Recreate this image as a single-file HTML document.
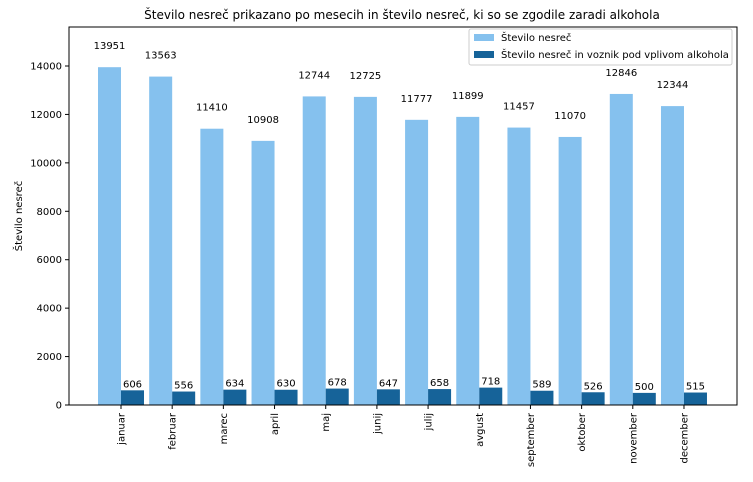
<!DOCTYPE html>
<html><head><meta charset="utf-8"><style>
body{margin:0;background:#fff;font-family:"Liberation Sans","DejaVu Sans",sans-serif}
svg text{font-family:"DejaVu Sans","Liberation Sans",sans-serif}
</style></head><body>
<svg id="c" width="753" height="477" xmlns="http://www.w3.org/2000/svg"></svg>
<script>
const categories=["januar","februar","marec","april","maj","junij","julij","avgust","september","oktober","november","december"];
const totalValues=[13951,13563,11410,10908,12744,12725,11777,11899,11457,11070,12846,12344];
const alcoholValues=[606,556,634,630,678,647,658,718,589,526,500,515];
const yTicks=[0,2000,4000,6000,8000,10000,12000,14000];
const svg=document.getElementById('c');const NS="http://www.w3.org/2000/svg";
function el(t,a,txt){const e=document.createElementNS(NS,t);for(const k in a)e.setAttribute(k,a[k]);if(txt!=null)e.textContent=txt;svg.appendChild(e);return e;}
const L=69,R=737,T=27,B=405;
const y=v=>B-v*(B-66)/14000;
const x=i=>121+i*51.18;
const bw=23;
const t=el('text',{x:402,y:19,'text-anchor':'middle','font-size':12},'Število nesreč prikazano po mesecih in število nesreč, ki so se zgodile zaradi alkohola');

categories.forEach((c,i)=>{
 const b1=el('rect',{x:x(i)-bw,y:y(totalValues[i]),width:bw,height:B-y(totalValues[i]),fill:'#85c1ee'});
 
 const b2=el('rect',{x:x(i),y:y(alcoholValues[i]),width:bw,height:B-y(alcoholValues[i]),fill:'#166399'});
 
 const l1=el('text',{x:x(i)-bw/2,y:y(totalValues[i])-18,'text-anchor':'middle','font-size':10},totalValues[i]);
 
 const l2=el('text',{x:x(i)+bw/2,y:y(alcoholValues[i])-3,'text-anchor':'middle','font-size':10},alcoholValues[i]);
 
 el('line',{x1:x(i),x2:x(i),y1:B,y2:B+4,stroke:'#000'});
 const xl=el('text',{transform:`translate(${x(i)+3.5},${B+8}) rotate(-90)`,'text-anchor':'end','font-size':10},c);
 
});
yTicks.forEach(v=>{
 el('line',{x1:L-4,x2:L,y1:y(v),y2:y(v),stroke:'#000'});
 const yl=el('text',{x:L-7,y:y(v)+3.5,'text-anchor':'end','font-size':10},v);
 
});
const ax=el('rect',{x:L,y:T,width:R-L,height:B-T,fill:'none',stroke:'#000','stroke-width':1});

const yt=el('text',{transform:'translate(22,216) rotate(-90)','text-anchor':'middle','font-size':10},'Število nesreč');

const lg=el('rect',{x:469,y:29,width:263,height:36,fill:'#fff',stroke:'#ccc',rx:2});

el('rect',{x:474,y:34,width:20,height:7,fill:'#85c1ee'});
const e1=el('text',{x:501,y:41,'font-size':10},'Število nesreč');

el('rect',{x:474,y:51,width:20,height:7,fill:'#166399'});
const e2=el('text',{x:501,y:58,'font-size':10},'Število nesreč in voznik pod vplivom alkohola');

</script>
</body></html>
